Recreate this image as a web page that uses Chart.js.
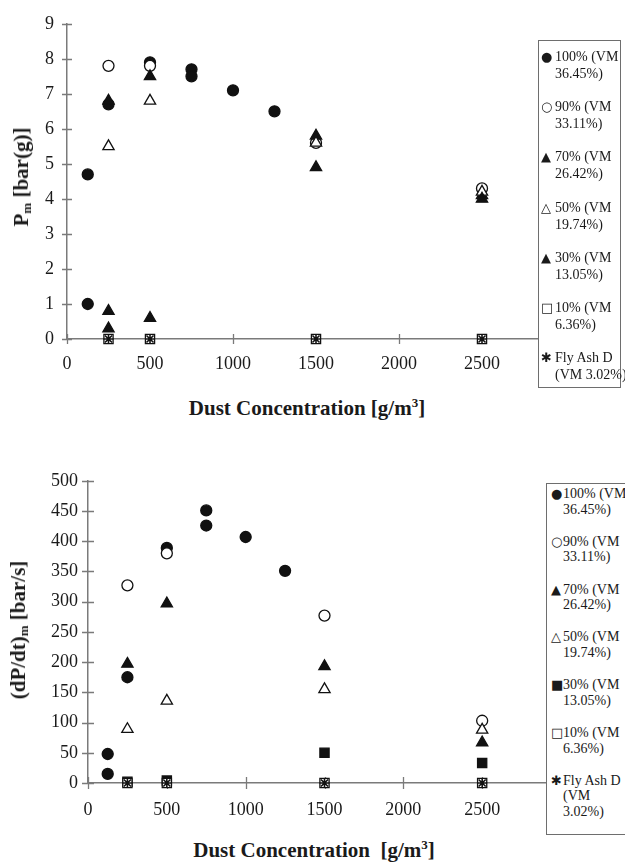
<!DOCTYPE html>
<html>
<head>
<meta charset="utf-8">
<script src="https://cdn.jsdelivr.net/npm/chart.js@4.4.1/dist/chart.umd.min.js"></script>
<style>
  html, body { margin:0; padding:0; background:#fff; }
  body { width:625px; height:866px; position:relative; overflow:hidden; font-family:"Liberation Serif","Times New Roman",serif; color:#1a1a1a; }
  canvas { position:absolute; left:0; }
  #c1 { top:0; }
  #c2 { top:460px; }
  .ytitle { position:absolute; transform:translate(-50%,-50%) rotate(-90deg); white-space:nowrap; font-weight:bold; font-size:21px; }
  .xtitle { position:absolute; transform:translate(-50%,-50%); white-space:nowrap; font-weight:bold; font-size:21px; }
  .ytitle sub { font-size:13px; vertical-align:-3px; }
  .xtitle sup { font-size:13px; vertical-align:8px; line-height:0; }
  .legend { position:absolute; background:#fff; border:1px solid #6e6e6e; box-sizing:border-box; }
  .item { position:absolute; left:0; white-space:nowrap; font-size:14px; }
  .sym { position:absolute; font-family:"DejaVu Sans",sans-serif; font-size:13px; line-height:16px; }
  .txt { position:absolute; line-height:16px; }
</style>
</head>
<body>
<canvas id="c1" width="625" height="380"></canvas>
<canvas id="c2" width="625" height="366"></canvas>
<div class="ytitle" style="left:22px;top:177px;">P<sub>m</sub> [bar(g)]</div>
<div class="xtitle" style="left:307px;top:408px;">Dust Concentration [g/m<sup>3</sup>]</div>
<div class="ytitle" style="left:19px;top:630px;">(dP/dt)<sub>m</sub> [bar/s]</div>
<div class="xtitle" style="left:314px;top:850px;">Dust Concentration&nbsp;&nbsp;[g/m<sup>3</sup>]</div>
<div id="leg1" class="legend" style="left:538px;top:40px;width:83px;height:348px;"></div>
<div id="leg2" class="legend" style="left:546px;top:483px;width:100px;height:352px;"></div>
<script>
// ---------- Data ----------
const xTickLabels = ['0', '500', '1000', '1500', '2000', '2500'];

// Top chart: P_m [bar(g)]
const pmX100 = [125, 125, 250, 500, 750, 750, 1000, 1250];
const pmY100 = [4.7, 1.0, 6.7, 7.9, 7.7, 7.5, 7.1, 6.5];
const pmX90  = [250, 500, 1500, 2500];
const pmY90  = [7.8, 7.8, 5.6, 4.3];
const pmX70  = [250, 500, 1500, 2500];
const pmY70  = [6.8, 7.5, 5.8, 4.1];
const pmX50  = [250, 500, 1500, 2500];
const pmY50  = [5.5, 6.8, 5.6, 4.2];
const pmX30  = [250, 250, 500, 1500, 2500];
const pmY30  = [0.8, 0.3, 0.6, 4.9, 4.0];
const pmX10  = [250, 500, 1500, 2500];
const pmY10  = [0, 0, 0, 0];
const pmXFly = [250, 500, 1500, 2500];
const pmYFly = [0, 0, 0, 0];

// Bottom chart: (dP/dt)_m [bar/s]
const rX100 = [125, 125, 250, 500, 750, 750, 1000, 1250];
const rY100 = [48, 15, 175, 389, 451, 426, 407, 351];
const rX90  = [250, 500, 1500, 2500];
const rY90  = [327, 380, 277, 103];
const rX70  = [250, 500, 1500, 2500];
const rY70  = [197, 297, 193, 67];
const rX50  = [250, 500, 1500, 2500];
const rY50  = [89, 136, 155, 88];
const rX30  = [250, 500, 1500, 2500];
const rY30  = [2, 4, 50, 33];
const rX10  = [250, 500, 1500, 2500];
const rY10  = [0, 0, 0, 0];
const rXFly = [250, 500, 1500, 2500];
const rYFly = [0, 0, 0, 0];

const seriesNames = ['100% (VM 36.45%)', '90% (VM 33.11%)', '70% (VM 26.42%)', '50% (VM 19.74%)',
                     '30% (VM 13.05%)', '10% (VM 6.36%)', 'Fly Ash D (VM 3.02%)'];
const legendLinesTop = [['100% (VM','36.45%)'],['90% (VM','33.11%)'],['70% (VM','26.42%)'],['50% (VM','19.74%)'],
                        ['30% (VM','13.05%)'],['10% (VM','6.36%)'],['Fly Ash D','(VM 3.02%)']];
const legendLinesBottom = [['100% (VM','36.45%)'],['90% (VM','33.11%)'],['70% (VM','26.42%)'],['50% (VM','19.74%)'],
                           ['30% (VM','13.05%)'],['10% (VM','6.36%)'],['Fly Ash D','(VM','3.02%)']];

// ---------- Styles ----------
const AXIS = '#7a7a7a';
const INK = '#111';
const styleTop = [
  {ps:'circle', fill:true, r:5.5}, {ps:'circle', fill:false, r:5.5}, {ps:'triangle', fill:true, r:6.5},
  {ps:'triangle', fill:false, r:6.5}, {ps:'triangle', fill:true, r:6.5}, {ps:'rect', fill:false, r:6.5},
  {ps:'star', fill:false, r:5}
];
const styleBottom = [
  {ps:'circle', fill:true, r:5.5}, {ps:'circle', fill:false, r:5.5}, {ps:'triangle', fill:true, r:6.5},
  {ps:'triangle', fill:false, r:6.5}, {ps:'rect', fill:true, r:6.5}, {ps:'rect', fill:false, r:6.5},
  {ps:'star', fill:false, r:5}
];
const symTop = ['●','○','▲','△','▲','□','✱'];
const symBottom = ['●','○','▲','△','■','□','✱'];

function pts(xs, ys) { return xs.map((x, i) => ({x: x, y: ys[i]})); }

function makeDatasets(pairs, styles) {
  return pairs.map((p, i) => {
    const s = styles[i];
    return {
      label: seriesNames[i],
      data: pts(p[0], p[1]),
      pointStyle: s.ps,
      pointRadius: s.r,
      pointHoverRadius: s.r,
      pointBackgroundColor: s.fill ? INK : '#fff',
      pointBorderColor: INK,
      pointBorderWidth: s.ps === 'star' ? 1.6 : 1.3,
      showLine: false,
      clip: false,
      order: pairs.length - i
    };
  });
}

const crossTicks = {
  id: 'crossTicks',
  beforeDatasetsDraw(chart, args, opts) {
    const ctx = chart.ctx, xs = chart.scales.x, ys = chart.scales.y;
    const h = opts.half || 5;
    ctx.save();
    ctx.strokeStyle = AXIS;
    ctx.lineWidth = 1.3;
    ctx.beginPath();
    xs.ticks.forEach(t => {
      const px = Math.round(xs.getPixelForValue(t.value)) + 0.5;
      ctx.moveTo(px, ys.bottom - h); ctx.lineTo(px, ys.bottom + h);
    });
    ys.ticks.forEach(t => {
      const py = Math.round(ys.getPixelForValue(t.value)) + 0.5;
      ctx.moveTo(xs.left - h, py); ctx.lineTo(xs.left + h, py);
    });
    ctx.stroke();
    ctx.restore();
  }
};

function makeChart(id, datasets, yMax, yStep, cfg) {
  return new Chart(document.getElementById(id), {
    type: 'scatter',
    data: { datasets: datasets },
    options: {
      responsive: false,
      animation: false,
      devicePixelRatio: 1,
      layout: { padding: { top: cfg.top, right: cfg.right, left: 0, bottom: 0 } },
      plugins: { legend: { display: false }, tooltip: { enabled: false }, crossTicks: { half: cfg.half } },
      scales: {
        x: {
          type: 'linear', min: 0, max: 3000,
          afterFit: s => { s.height = cfg.xh; },
          grid: { display: false, drawTicks: false },
          border: { display: true, color: AXIS, width: 1.5 },
          ticks: { stepSize: 500, padding: cfg.xpad, color: '#1a1a1a', maxRotation: 0,
                   callback: (v, i) => (i < xTickLabels.length ? xTickLabels[i] : ''),
                   font: { family: 'Liberation Serif', size: 18 } }
        },
        y: {
          type: 'linear', min: 0, max: yMax,
          afterFit: s => { s.width = cfg.yw; },
          grid: { display: false, drawTicks: false },
          border: { display: true, color: AXIS, width: 1.5 },
          ticks: { stepSize: yStep, padding: cfg.ypad, color: '#1a1a1a',
                   callback: v => String(v),
                   font: { family: 'Liberation Serif', size: 18 } }
        }
      }
    },
    plugins: [crossTicks]
  });
}

makeChart('c1', makeDatasets([
  [pmX100, pmY100], [pmX90, pmY90], [pmX70, pmY70], [pmX50, pmY50],
  [pmX30, pmY30], [pmX10, pmY10], [pmXFly, pmYFly]
], styleTop), 9, 1, {top: 16, right: 60, xh: 41, yw: 67, xpad: 14, ypad: 13, half: 5});

makeChart('c2', makeDatasets([
  [rX100, rY100], [rX90, rY90], [rX70, rY70], [rX50, rY50],
  [rX30, rY30], [rX10, rY10], [rXFly, rYFly]
], styleBottom), 500, 50, {top: 17, right: 64, xh: 43, yw: 88, xpad: 16, ypad: 10, half: 6});

// ---------- HTML legends ----------
function buildLegend(id, lines, syms, firstTop, spacing, lh, symLeft, txtLeft) {
  const box = document.getElementById(id);
  lines.forEach((ls, i) => {
    const it = document.createElement('div');
    it.className = 'item';
    it.style.top = (firstTop + i * spacing) + 'px';
    const sym = document.createElement('span');
    sym.className = 'sym';
    sym.style.left = symLeft + 'px';
    sym.style.top = '0px';
    sym.textContent = syms[i];
    it.appendChild(sym);
    ls.forEach((t, k) => {
      const tx = document.createElement('span');
      tx.className = 'txt';
      tx.style.left = txtLeft + 'px';
      tx.style.top = (k * lh) + 'px';
      tx.textContent = t;
      it.appendChild(tx);
    });
    box.appendChild(it);
  });
}
buildLegend('leg1', legendLinesTop, symTop, 8, 50.2, 17, 2, 16);
buildLegend('leg2', legendLinesBottom, symBottom, 2, 47.8, 15.5, 4, 16);
</script>
</body>
</html>
